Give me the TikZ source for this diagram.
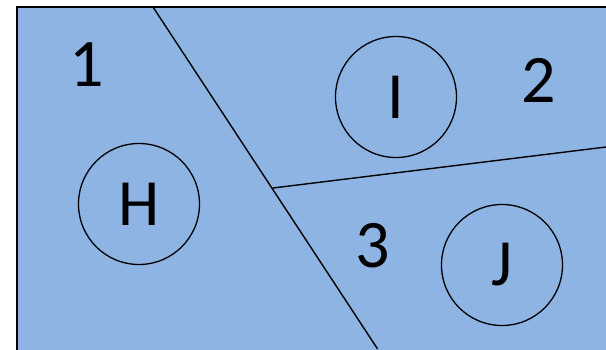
\documentclass[tikz,border=0pt]{standalone}
\usepackage{fontspec}
\setmainfont{Carlito}
\definecolor{regionblue}{HTML}{8EB4E3}
\tikzset{
  zone/.style={circle, draw=black, line width=1.3pt, minimum size=121pt, inner sep=0pt, font=\fontsize{66}{66}\selectfont},
  zlabel/.style={inner sep=0pt, font=\fontsize{68}{68}\selectfont},
  cut/.style={draw=black, line width=1.4pt}
}
\begin{document}
\begin{tikzpicture}[x=1pt,y=-1pt]
\useasboundingbox (0,0) rectangle (606,349);
\clip (0,0) rectangle (606,349);
\fill[regionblue, draw=black, line width=2pt] (17,7) rectangle (620,360);
\coordinate (a1) at (153,7);
\coordinate (a2) at (377.6,349);
\coordinate (b1) at (273,188);
\coordinate (b2) at (606,147);
\draw[cut] (a1) -- (a2);
\draw[cut] (b1) -- (b2);
\node[zone] (H) at (139,204) {H};
\node[zone] (I) at (396,97) {I};
\node[zone] (J) at (502,265) {J};
\node[zlabel] (n1) at (87,65) {1};
\node[zlabel] (n2) at (539,80) {2};
\node[zlabel] (n3) at (373,246) {3};
\end{tikzpicture}
\end{document}
